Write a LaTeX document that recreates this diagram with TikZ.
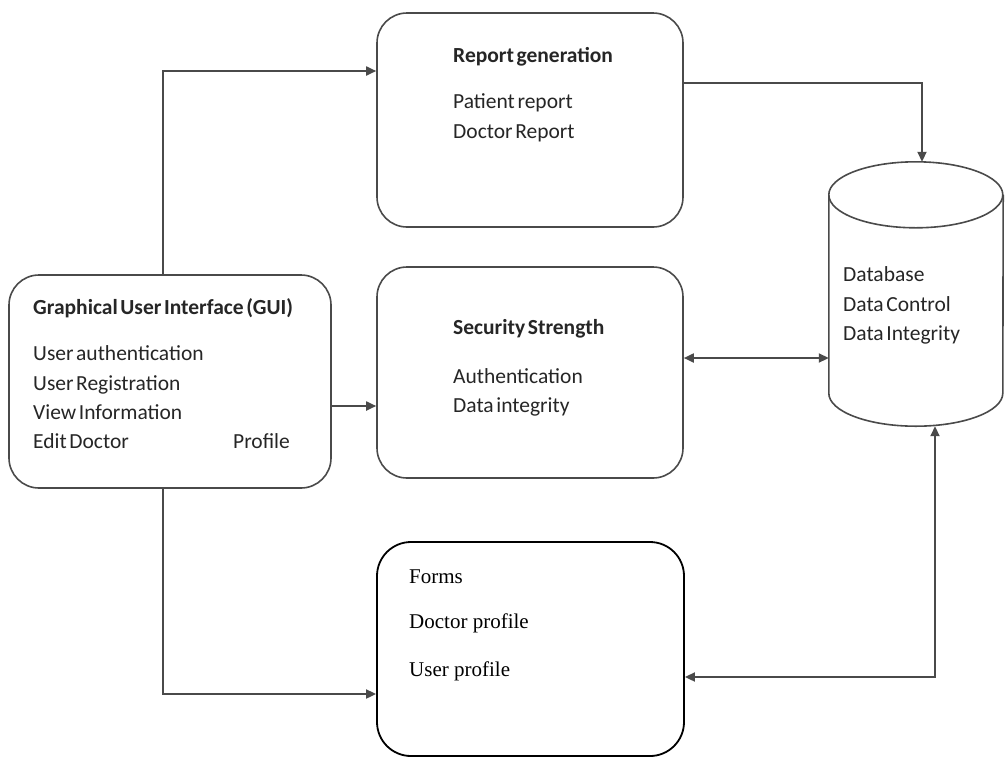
\documentclass[tikz,border=0pt]{standalone}
\usepackage{fontspec}
\setmainfont{Liberation Serif}
\newfontfamily\calibrifont{Carlito}
\newfontfamily\timesfont{Liberation Serif}
\usetikzlibrary{arrows.meta}
\definecolor{linegray}{HTML}{4A4A4A}
\definecolor{textgray}{HTML}{262626}
\newcommand\tightwords{\spaceskip=2.6pt\relax}
\tikzset{
  x=1pt, y=-1pt,
  modbox/.style={draw=linegray, line width=1.6pt, rounded corners=30pt, fill=white, inner sep=0pt},
  formbox/.style={draw=black, line width=1.8pt, rounded corners=34pt, fill=white, inner sep=0pt},
  ghost/.style={draw=none, inner sep=0pt},
  lbl/.style={anchor=base west, inner sep=0pt, text=textgray,
    font=\calibrifont\fontsize{21.5}{25}\selectfont, execute at begin node=\tightwords},
  lblb/.style={lbl, font=\calibrifont\bfseries\fontsize{21.5}{25}\selectfont},
  serif/.style={anchor=base west, inner sep=0pt, text=black,
    font=\timesfont\fontsize{21}{25}\selectfont},
  link/.style={draw=linegray, line width=1.8pt, -{Triangle[length=10pt,width=9pt]}},
  link2/.style={link, {Triangle[length=10pt,width=9pt]}-{Triangle[length=10pt,width=9pt]}},
}
\begin{document}
\begin{tikzpicture}
\useasboundingbox (0,0) rectangle (1006,756);

% module boxes
\node[modbox, minimum width=322pt, minimum height=213pt] (gui) at (170,381.5) {};
\node[modbox, minimum width=306pt, minimum height=214pt] (rep) at (530,120) {};
\node[modbox, minimum width=306pt, minimum height=211pt] (sec) at (530,372.5) {};
\node[formbox, minimum width=307pt, minimum height=214pt] (forms) at (530.5,649) {};

% database cylinder
\node[ghost, minimum width=174pt, minimum height=264pt] (db) at (916,294) {};
\path
  (db.north west) ++(0,33) coordinate (dbtl)
  (db.north east) ++(0,33) coordinate (dbtr)
  (db.south west) ++(0,-33) coordinate (dbbl)
  (db.south east) ++(0,-33) coordinate (dbbr);
\draw[linegray, line width=1.6pt, fill=white]
  (dbtl) -- (dbbl) arc[start angle=180, end angle=360, x radius=87pt, y radius=33pt]
  -- (dbtr);
\draw[linegray, line width=1.6pt]
  (dbtl) arc[start angle=180, end angle=-180, x radius=87pt, y radius=33pt];

% texts
\node[lblb] (guit) at (33,314) {Graphical User Interface (GUI)};
\node[lbl] (gui1) at (33,360) {User authentication};
\node[lbl] (gui2) at (33,390) {User Registration};
\node[lbl] (gui3) at (33,419) {View Information};
\node[lbl] (gui4) at (33,448) {Edit Doctor};
\node[lbl] (gui5) at (233,448) {Profile};

\node[lblb] (rept) at (453,62) {Report generation};
\node[lbl] (rep1) at (453,108) {Patient report};
\node[lbl] (rep2) at (453,138) {Doctor Report};

\node[lblb] (sect) at (453,334) {Security Strength};
\node[lbl] (sec1) at (453,383) {Authentication};
\node[lbl] (sec2) at (453,412) {Data integrity};

\node[lbl] (db1) at (843,281) {Database};
\node[lbl] (db2) at (843,311) {Data Control};
\node[lbl] (db3) at (843,340) {Data Integrity};

\node[serif] (f1) at (409,583) {Forms};
\node[serif] (f2) at (409,628) {Doctor profile};
\node[serif] (f3) at (409,676) {User profile};

% connectors
\draw[link] ([xshift=-7pt]gui.north) |- ([yshift=49pt]rep.west);
\draw[link] ([yshift=-24.5pt]gui.east) -- ([yshift=-24.5pt]gui.east -| sec.west);
\draw[link] ([xshift=-7pt]gui.south) |- ([yshift=-45pt]forms.west);
\draw[link] ([yshift=37pt]rep.east) -| ([xshift=6pt]db.north);
\draw[link2] ([yshift=14.5pt]sec.east) -- ([yshift=14.5pt]sec.east -| db.west);
\draw[link2] ([yshift=-28pt]forms.east) -| ([xshift=19pt]db.south);
\end{tikzpicture}
\end{document}
